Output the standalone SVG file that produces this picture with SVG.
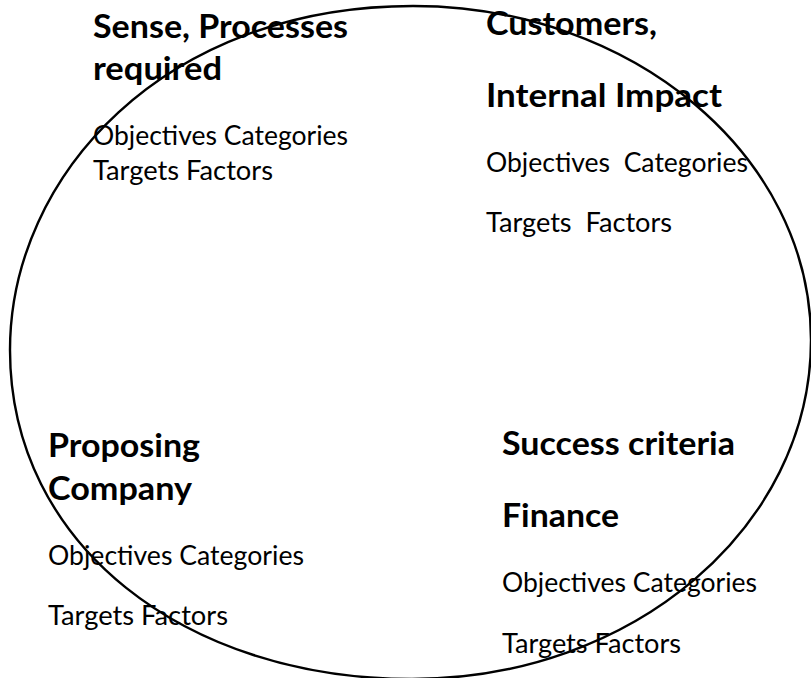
<svg xmlns="http://www.w3.org/2000/svg" width="811" height="678" viewBox="0 0 811 678">
  <style>
    .head { font-family: Lato, "Open Sans", "Liberation Sans", sans-serif; font-weight: 700; font-size: 33px; fill: #000; }
    .item { font-family: Lato, "Open Sans", "Liberation Sans", sans-serif; font-weight: 400; font-size: 26px; fill: #000; white-space: pre; }
    .outline { fill: none; stroke: #000; stroke-width: 2.4; }
  </style>
  <rect width="811" height="678" fill="#fff"/>

  <!-- top-left quadrant -->
  <g id="sense-processes">
    <text class="head" x="93" y="38" textLength="255" lengthAdjust="spacingAndGlyphs">Sense, Processes</text>
    <text class="head" x="93" y="80" textLength="129" lengthAdjust="spacingAndGlyphs">required</text>
    <text class="item" x="93" y="145" textLength="255" lengthAdjust="spacingAndGlyphs">Objectives Categories</text>
    <text class="item" x="93" y="180" textLength="180" lengthAdjust="spacingAndGlyphs">Targets Factors</text>
  </g>

  <!-- top-right quadrant -->
  <g id="customers-impact">
    <text class="head" x="486" y="35" textLength="171" lengthAdjust="spacingAndGlyphs">Customers,</text>
    <text class="head" x="486" y="107" textLength="236" lengthAdjust="spacingAndGlyphs">Internal Impact</text>
    <text class="item" x="486" y="172" textLength="262" lengthAdjust="spacingAndGlyphs">Objectives  Categories</text>
    <text class="item" x="486" y="232" textLength="186" lengthAdjust="spacingAndGlyphs">Targets  Factors</text>
  </g>

  <!-- bottom-left quadrant -->
  <g id="proposing-company">
    <text class="head" x="48" y="457" textLength="152" lengthAdjust="spacingAndGlyphs">Proposing</text>
    <text class="head" x="48" y="500" textLength="144" lengthAdjust="spacingAndGlyphs">Company</text>
    <text class="item" x="48" y="565" textLength="256" lengthAdjust="spacingAndGlyphs">Objectives Categories</text>
    <text class="item" x="48" y="625" textLength="180" lengthAdjust="spacingAndGlyphs">Targets Factors</text>
  </g>

  <!-- bottom-right quadrant -->
  <g id="success-finance">
    <text class="head" x="502" y="455" textLength="233" lengthAdjust="spacingAndGlyphs">Success criteria</text>
    <text class="head" x="502" y="527" textLength="117" lengthAdjust="spacingAndGlyphs">Finance</text>
    <text class="item" x="502" y="592" textLength="255" lengthAdjust="spacingAndGlyphs">Objectives Categories</text>
    <text class="item" x="502" y="653" textLength="179" lengthAdjust="spacingAndGlyphs">Targets Factors</text>
  </g>

  <!-- large oval enclosing the four quadrants -->
  <g id="connectors">
    <path class="outline" d="M10,350 C10,175 165,6 413,6 C633,6 811,156 811,340 C811,527 633,679 412,679 C185,679 10,545 10,350 Z"/>
  </g>
</svg>
